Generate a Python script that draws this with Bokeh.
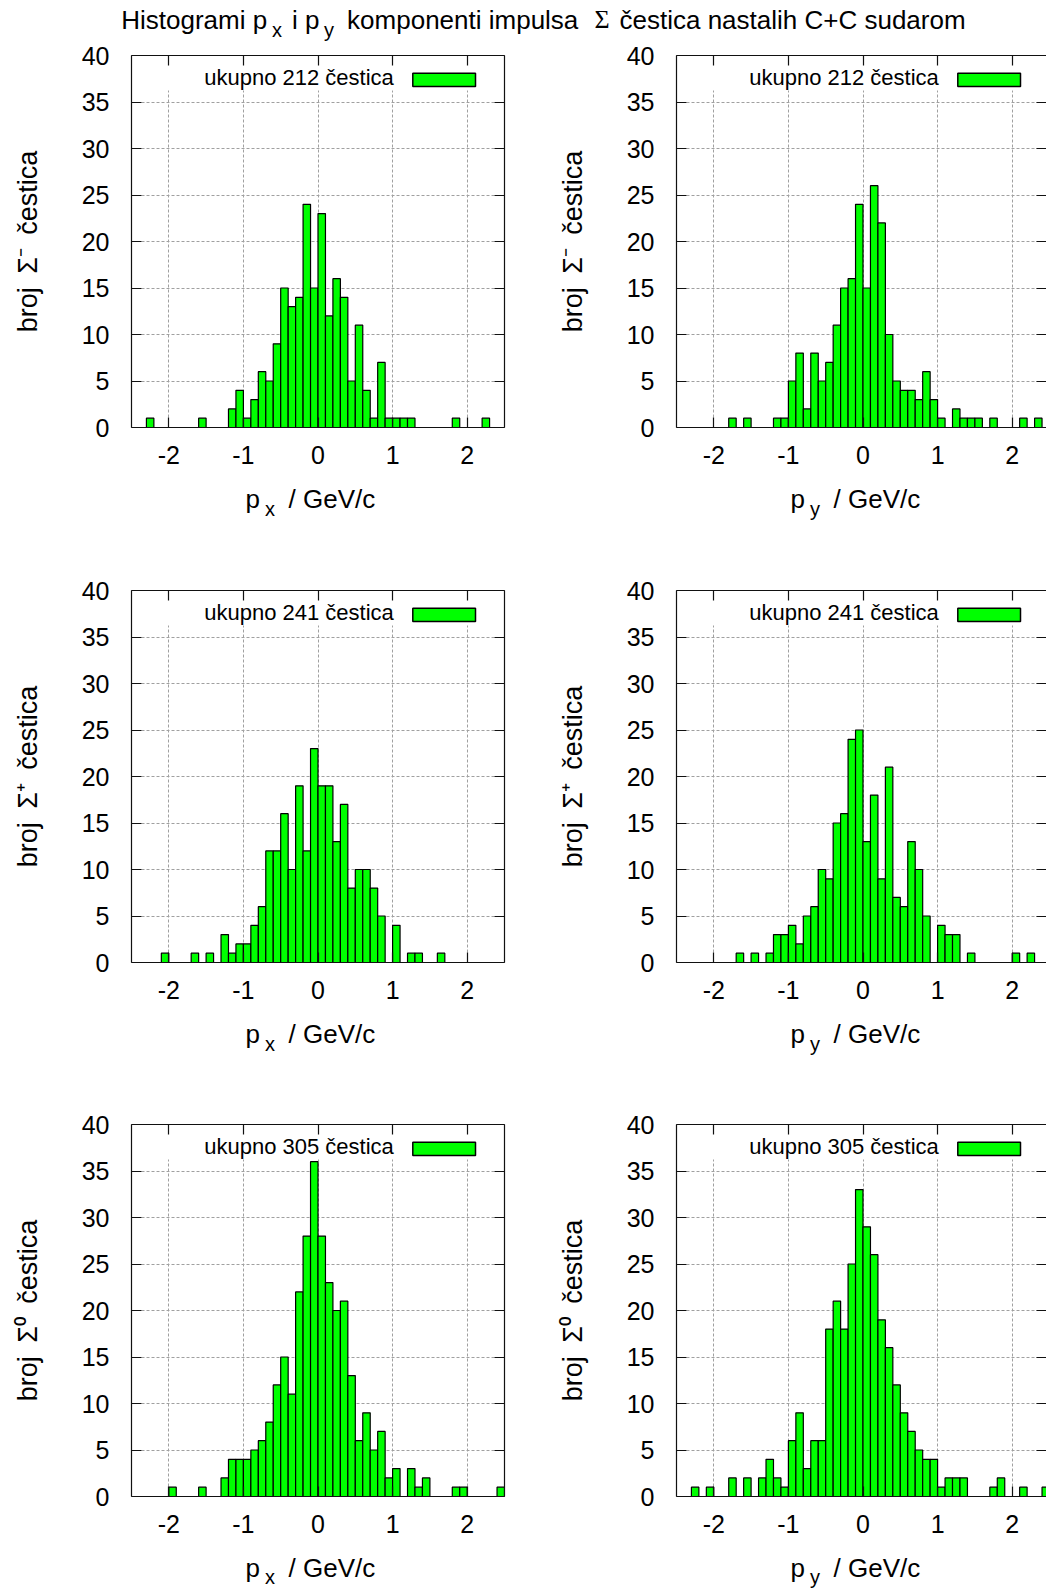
import numpy as np
from bokeh.plotting import figure
from bokeh.models import (Range1d, LinearAxis, FixedTicker, Label, BoxAnnotation,
                          ColumnDataSource, CustomJSTickFormatter)
from bokeh.layouts import column, row
from bokeh.embed import file_html
from bokeh.resources import INLINE
from bokeh.core.properties import value

# ---------------- data ----------------
bin_left = [-2.5, -2.4, -2.3, -2.2, -2.1, -2.0, -1.9, -1.8, -1.7, -1.6,
            -1.5, -1.4, -1.3, -1.2, -1.1, -1.0, -0.9, -0.8, -0.7, -0.6,
            -0.5, -0.4, -0.3, -0.2, -0.1, 0.0, 0.1, 0.2, 0.3, 0.4,
            0.5, 0.6, 0.7, 0.8, 0.9, 1.0, 1.1, 1.2, 1.3, 1.4,
            1.5, 1.6, 1.7, 1.8, 1.9, 2.0, 2.1, 2.2, 2.3, 2.4]
bin_width = 0.1

sigma_minus_px = [0, 0, 1, 0, 0, 0, 0, 0, 0, 1,
                  0, 0, 0, 2, 4, 1, 3, 6, 5, 9,
                  15, 13, 14, 24, 15, 23, 12, 16, 14, 5,
                  11, 4, 1, 7, 1, 1, 1, 1, 0, 0,
                  0, 0, 0, 1, 0, 0, 0, 1, 0, 0]
sigma_minus_py = [0, 0, 0, 0, 0, 0, 0, 1, 0, 1,
                  0, 0, 0, 1, 1, 5, 8, 2, 8, 5,
                  7, 11, 15, 16, 24, 15, 26, 22, 10, 5,
                  4, 4, 3, 6, 3, 1, 0, 2, 1, 1,
                  1, 0, 1, 0, 0, 0, 1, 0, 1, 0]
sigma_plus_px = [0, 0, 0, 0, 1, 0, 0, 0, 1, 0,
                 1, 0, 3, 1, 2, 2, 4, 6, 12, 12,
                 16, 10, 19, 12, 23, 19, 19, 13, 17, 8,
                 10, 10, 8, 5, 0, 4, 0, 1, 1, 0,
                 0, 1, 0, 0, 0, 0, 0, 0, 0, 0]
sigma_plus_py = [0, 0, 0, 0, 0, 0, 0, 0, 1, 0,
                 1, 0, 1, 3, 3, 4, 2, 5, 6, 10,
                 9, 15, 16, 24, 25, 13, 18, 9, 21, 7,
                 6, 13, 10, 5, 0, 4, 3, 3, 0, 1,
                 0, 0, 0, 0, 0, 1, 0, 1, 0, 0]
sigma_zero_px = [0, 0, 0, 0, 0, 1, 0, 0, 0, 1,
                 0, 0, 2, 4, 4, 4, 5, 6, 8, 12,
                 15, 11, 22, 28, 36, 28, 23, 20, 21, 13,
                 6, 9, 5, 7, 2, 3, 0, 3, 1, 2,
                 0, 0, 0, 1, 1, 0, 0, 0, 0, 1]
sigma_zero_py = [0, 0, 1, 0, 1, 0, 0, 2, 0, 2,
                 0, 2, 4, 2, 1, 6, 9, 3, 6, 6,
                 18, 21, 18, 25, 33, 29, 26, 19, 16, 12,
                 9, 7, 5, 4, 4, 1, 2, 2, 2, 0,
                 0, 0, 1, 2, 0, 0, 1, 0, 0, 1]

legend_totals = [212, 241, 305]
y_axis_titles = ["broj\u2002Σ⁻\u2002čestica", "broj\u2002Σ⁺\u2002čestica",
                 "broj\u2002Σ⁰\u2002čestica"]
components = ["x", "y"]
x_ticks = [-2, -1, 0, 1, 2]
y_ticks = [0, 5, 10, 15, 20, 25, 30, 35, 40]
x_limits = (-2.5, 2.5)
y_limits = (0, 40)

# ---------------- style / geometry ----------------
FONT = "Liberation Sans"
SERIF = "Liberation Serif"
TXT = "#000000"
BAR = "#00ff00"
PAGE_W = 1046
FRAME_H = 372
FRAME_W = 373
UNIT = FRAME_W / (x_limits[1] - x_limits[0])
TOP_B = 14
MID = 0.3465          # baseline -> middle offset (em) for Liberation Sans

P_W = [548, 498]
P_BL = [131, 128]
P_BR = [44, 0]
TITLE_H = 41
ROW_BB = [50, 50, 46]          # bottom border of panel figures
STRIP_H = [99, 98, 46]         # x-label strips under each row


def style_axis(ax, ticks, show_labels, standoff):
    ax.ticker = FixedTicker(ticks=ticks)
    ax.major_tick_in = 10
    ax.major_tick_out = 0
    ax.minor_tick_line_color = None
    ax.axis_line_color = "#111111"
    ax.axis_line_width = 1.2
    ax.major_tick_line_color = "#111111"
    ax.major_tick_line_width = 1.2
    ax.major_label_text_font = FONT
    ax.major_label_text_font_size = "25px"
    ax.major_label_text_color = TXT
    ax.major_label_standoff = standoff
    if show_labels:
        ax.formatter = CustomJSTickFormatter(code="return tick.toString()")
    else:
        ax.formatter = CustomJSTickFormatter(code="return ''")
        ax.major_label_standoff = 0


def blank_fig(w, h):
    f = figure(width=w, height=h, x_range=Range1d(0, w), y_range=Range1d(h, 0),
               output_backend="svg", toolbar_location=None, min_border=0,
               x_axis_location=None, y_axis_location=None)
    f.outline_line_color = None
    f.grid.visible = False
    f.background_fill_color = "white"
    f.border_fill_color = "white"
    return f


def txt(f, x, baseline, t, size=26, font=FONT):
    # y axis of blank figures points down; place text by its baseline
    f.text(x=[x], y=[baseline - MID * size], text=[t], text_font=value(font),
           text_font_size=value(f"{size}px"), text_color=TXT,
           text_baseline="middle", text_align="left")


def make_panel(counts, total, col, ri):
    fig_w = P_W[col]
    b_left, b_right = P_BL[col], P_BR[col]
    frame_w = fig_w - b_left - b_right
    x_end = x_limits[0] + frame_w / UNIT
    b_bottom = ROW_BB[ri]
    fig_h = TOP_B + FRAME_H + b_bottom
    p = figure(width=fig_w, height=fig_h,
               x_range=Range1d(x_limits[0], x_end), y_range=Range1d(*y_limits),
               output_backend="svg", toolbar_location=None,
               min_border_left=b_left, min_border_right=b_right,
               min_border_top=TOP_B, min_border_bottom=b_bottom)
    p.outline_line_color = None
    p.background_fill_color = "white"
    p.border_fill_color = "white"

    style_axis(p.xaxis[0], x_ticks, True, 18)
    ya = p.yaxis[0]
    style_axis(ya, y_ticks, True, 22)
    ya.axis_label = y_axis_titles[ri]
    ya.axis_label_text_font = FONT
    ya.axis_label_text_font_size = "27px"
    ya.axis_label_text_font_style = "normal"
    ya.axis_label_text_color = TXT
    ya.axis_label_standoff = 36

    top_ax = LinearAxis()
    style_axis(top_ax, x_ticks, False, 0)
    p.add_layout(top_ax, "above")
    right_ax = LinearAxis()
    style_axis(right_ax, y_ticks, False, 0)
    if col == 1:
        right_ax.axis_line_color = None   # border lies just outside the picture
    p.add_layout(right_ax, "right")

    for g, ticks in ((p.xgrid[0], x_ticks), (p.ygrid[0], y_ticks)):
        g.ticker = FixedTicker(ticks=ticks)
        g.grid_line_color = "#a0a0a0"
        g.grid_line_dash = "3 2"
        g.grid_line_width = 1

    # opaque key band (grid hidden under the key)
    p.add_layout(BoxAnnotation(bottom=FRAME_H - 35, top=FRAME_H,
                               bottom_units="screen", top_units="screen",
                               fill_color="white", fill_alpha=1.0,
                               line_color=None, level="underlay"))

    lefts = [b for b, c in zip(bin_left, counts) if c > 0]
    tops = [c for c in counts if c > 0]
    src = ColumnDataSource(dict(left=lefts,
                                right=[b + bin_width for b in lefts],
                                top=tops))
    p.quad(left="left", right="right", bottom=0, top="top", source=src,
           fill_color=BAR, line_color="black", line_width=1.2)

    # key: text then sample box
    p.add_layout(Label(x=262.3, y=FRAME_H - 30 + MID * 22, x_units="screen", y_units="screen",
                       text=f"ukupno {total} čestica", text_font=FONT,
                       text_font_size="22px", text_color=TXT,
                       text_align="right", text_baseline="middle"))
    p.add_layout(BoxAnnotation(left=281.3, right=344, bottom=FRAME_H - 31, top=FRAME_H - 17.7,
                               left_units="screen", right_units="screen",
                               bottom_units="screen", top_units="screen",
                               fill_color=BAR, fill_alpha=1.0,
                               line_color="black", line_alpha=1.0, line_width=1.5))
    return p


def make_xstrip(ri):
    h = STRIP_H[ri]
    f = blank_fig(PAGE_W, h)
    base = 80.7 - ROW_BB[ri]
    sub = base + (8.0 if ri < 2 else 6.9)
    for col, comp in enumerate(components):
        fl = sum(P_W[:col]) + P_BL[col]
        txt(f, fl + 114, base, "p")
        txt(f, fl + 133.5, sub, comp, size=20)
        txt(f, fl + 157, base, "/ GeV/c")
    return f


# ---------------- title ----------------
title_fig = blank_fig(PAGE_W, TITLE_H)
txt(title_fig, 120.7, 28.3, "Histogrami p")
txt(title_fig, 271.5, 36.0, components[0], size=20)
txt(title_fig, 291.6, 28.3, "i p")
txt(title_fig, 323.5, 36.0, components[1], size=20)
txt(title_fig, 346.6, 28.3, "komponenti impulsa")
txt(title_fig, 594.0, 28.3, "Σ", font=SERIF)
txt(title_fig, 619.0, 28.3, "čestica nastalih C+C sudarom")

# ---------------- panels ----------------
series = [(sigma_minus_px, sigma_minus_py), (sigma_plus_px, sigma_plus_py),
          (sigma_zero_px, sigma_zero_py)]
blocks = [title_fig]
for ri, (sx, sy) in enumerate(series):
    pl = make_panel(sx, legend_totals[ri], 0, ri)
    pr = make_panel(sy, legend_totals[ri], 1, ri)
    blocks.append(row(pl, pr))
    blocks.append(make_xstrip(ri))

layout = column(*blocks)

open("out.html", "w").write(file_html(layout, INLINE))
